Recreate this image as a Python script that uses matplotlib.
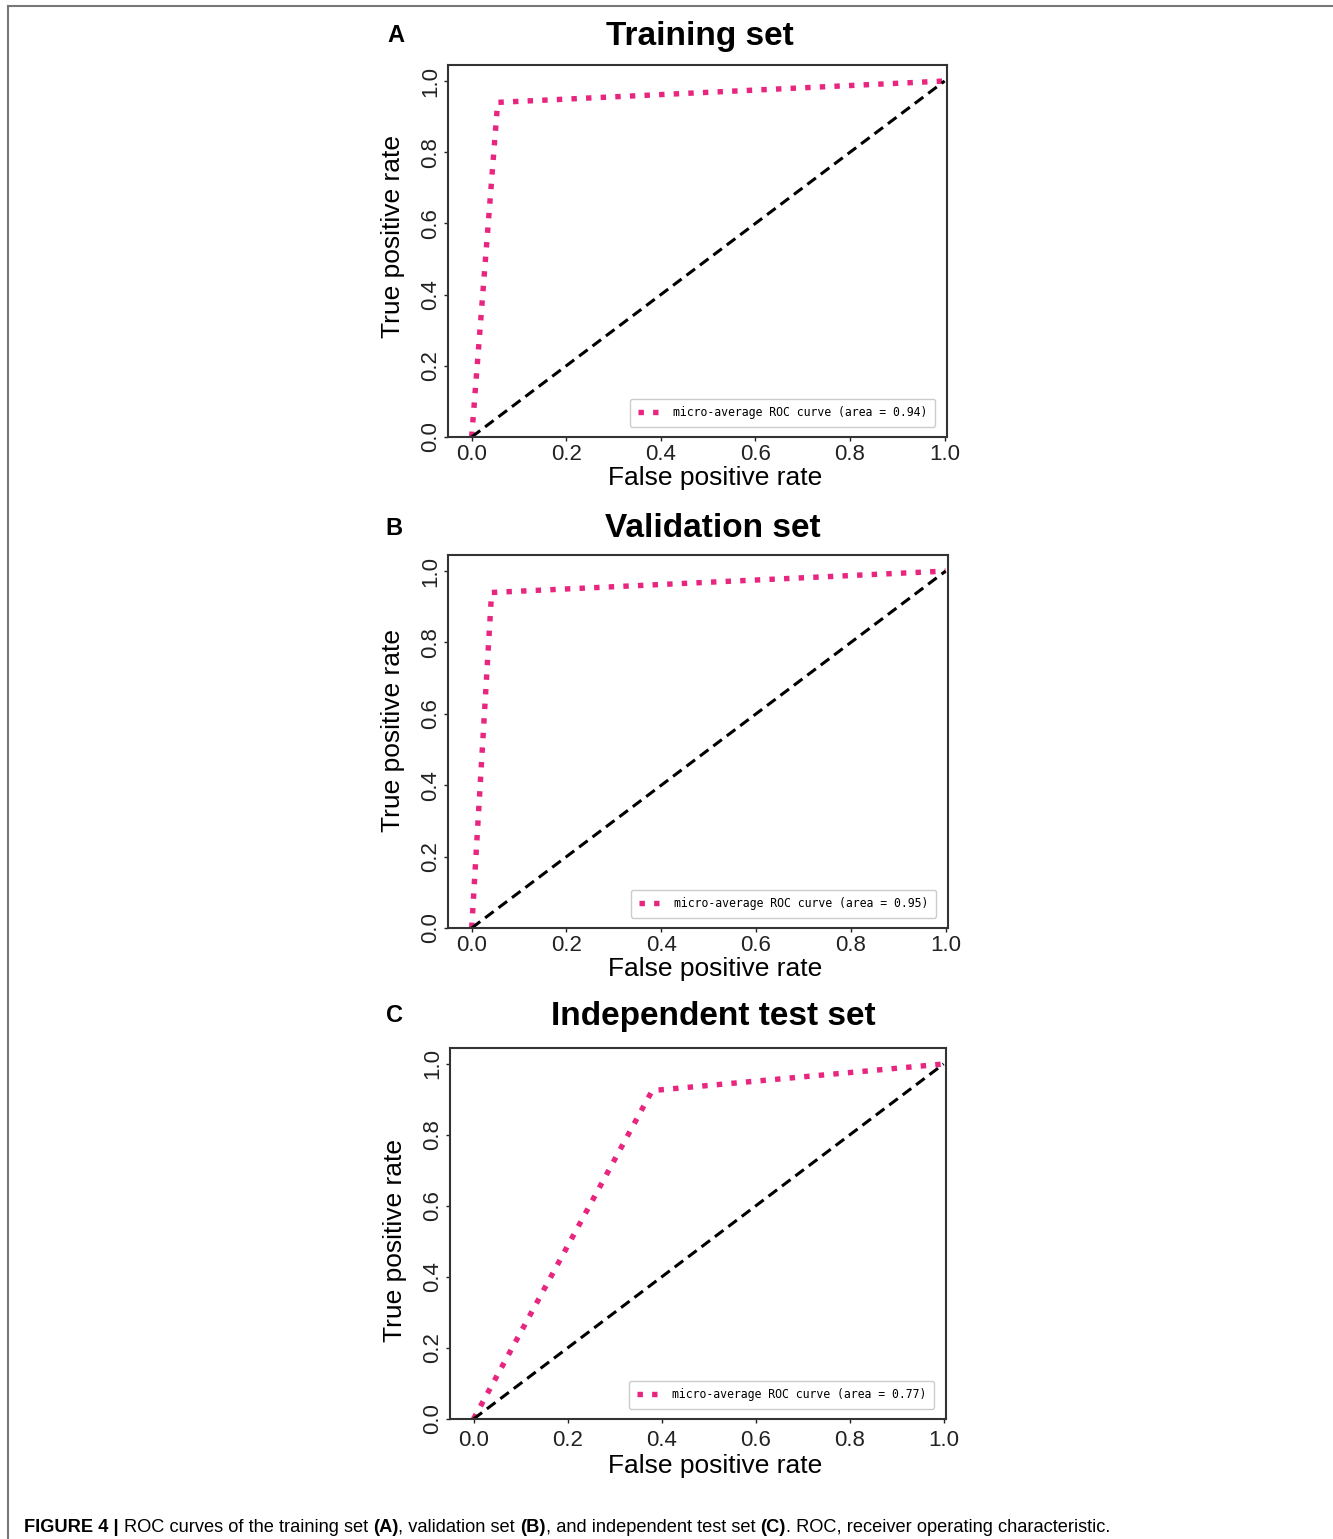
import matplotlib
matplotlib.use("Agg")
import matplotlib.pyplot as plt
from matplotlib.lines import Line2D

titles = ["Training set", "Validation set", "Independent test set"]
letters = ["A", "B", "C"]
fpr_A = [0.0, 0.055, 1.0]
tpr_A = [0.0, 0.94, 1.0]
fpr_B = [0.0, 0.042, 1.0]
tpr_B = [0.0, 0.94, 1.0]
fpr_C = [0.0, 0.38, 1.0]
tpr_C = [0.0, 0.925, 1.0]
areas = ["0.94", "0.95", "0.77"]
xticks = [0.0, 0.2, 0.4, 0.6, 0.8, 1.0]
yticks = [0.0, 0.2, 0.4, 0.6, 0.8, 1.0]

W, H = 1333, 1539
fig = plt.figure(figsize=(W / 100, H / 100), dpi=100)
plt.rcParams['font.family'] = ['Liberation Sans', 'DejaVu Sans']

# page frame lines
fig.add_artist(Line2D([8 / W, 1], [1 - 6 / H, 1 - 6 / H], color='#777777', lw=1.5))
fig.add_artist(Line2D([8 / W, 8 / W], [0, 1 - 6 / H], color='#777777', lw=1.5))

# axes boxes in pixels: left, right, top, bottom
boxes = [(448, 947, 65, 437), (448, 948, 555, 928), (450, 946, 1048, 1419)]
title_pos = [(700, 36), (713, 529), (713, 1016)]
letter_pos = [(396, 35), (394, 529), (395, 1016)]
curves = [(fpr_A, tpr_A), (fpr_B, tpr_B), (fpr_C, tpr_C)]
xlabel_cx = [715, 715, 715]
xlabel_off = [41, 41, 47]
xtick_pad = [2, 2, 5]
ylabel_cy = [237, 731, 1240]

pink = '#e8267f'
for i in range(3):
    l, r, t, b = boxes[i]
    ax = fig.add_axes([l / W, 1 - b / H, (r - l) / W, (b - t) / H])
    fpr, tpr = curves[i]
    ax.plot(fpr, tpr, color=pink, lw=3.9, ls=(0, (1, 1.7)),
            label=f"micro-average ROC curve (area = {areas[i]})")
    ax.plot([0, 1], [0, 1], color='black', lw=2.2, ls=(0, (3.5, 2)))
    ax.set_xlim(-0.05, 1.005)
    ax.set_ylim(0.0, 1.045)
    ax.set_xticks(xticks)
    ax.set_yticks(yticks)
    ax.set_xticklabels([f"{v:.1f}" for v in xticks], fontsize=16)
    ax.set_yticklabels([f"{v:.1f}" for v in yticks], fontsize=16, rotation=90, va='center')
    ax.tick_params(length=3, width=1, pad=2, colors='#222222')
    ax.tick_params(axis='x', pad=xtick_pad[i])
    for s in ax.spines.values():
        s.set_color('#333333')
        s.set_linewidth(1.5)
    ax.set_xlabel("False positive rate", fontsize=19)
    ax.set_ylabel("True positive rate", fontsize=19)
    ax.xaxis.set_label_coords((xlabel_cx[i] - l) / (r - l), -xlabel_off[i] / (b - t), transform=ax.transAxes)
    ax.yaxis.set_label_coords(-(448 - 393) / (r - l), (b - ylabel_cy[i]) / (b - t), transform=ax.transAxes)
    ax.xaxis.label.set_va('center')
    ax.yaxis.label.set_va('center')
    leg = ax.legend(loc='lower right', prop={'family': 'DejaVu Sans Mono', 'size': 8.3},
                    handlelength=1.8, handletextpad=1.3, borderpad=0.65,
                    framealpha=1, edgecolor='#cccccc', fancybox=True,
                    bbox_to_anchor=(0.988, 0.012))
    tx, ty = title_pos[i]
    fig.text(tx / W, 1 - ty / H, titles[i], fontsize=24, fontweight='bold',
             ha='center', va='center')
    lx, ly = letter_pos[i]
    fig.text(lx / W, 1 - ly / H, letters[i], fontsize=17, fontweight='bold',
             ha='center', va='center')

# caption
renderer = fig.canvas.get_renderer()
cap_parts = [("FIGURE 4 | ", 'bold'), ("ROC curves of the training set ", 'normal'),
             ("(A)", 'bold'), (", validation set ", 'normal'), ("(B)", 'bold'),
             (", and independent test set ", 'normal'), ("(C)", 'bold'),
             (". ROC, receiver operating characteristic.", 'normal')]
x = 24
for txt, wt in cap_parts:
    tobj = fig.text(x / W, 1 - 1527 / H, txt, fontsize=13.15, fontweight=wt,
                    family=['Liberation Sans Narrow', 'Liberation Sans', 'DejaVu Sans'],
                    ha='left', va='center')
    bb = tobj.get_window_extent(renderer=renderer)
    x += bb.width

fig.savefig("out.png", dpi=100)
